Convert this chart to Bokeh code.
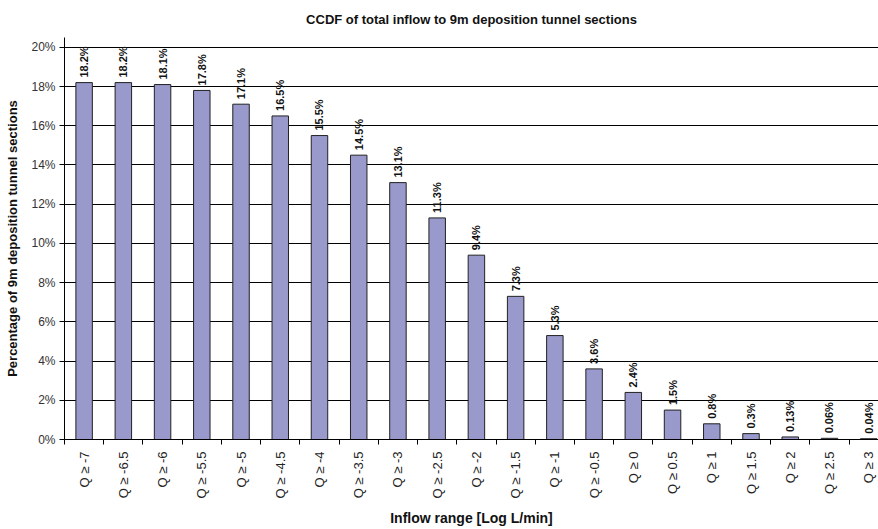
import math
from bokeh.plotting import figure
from bokeh.models import ColumnDataSource, Range1d, FixedTicker
from bokeh.core.properties import value
from bokeh.embed import file_html
from bokeh.resources import INLINE

categories = ["Q ≥ -7", "Q ≥ -6.5", "Q ≥ -6", "Q ≥ -5.5", "Q ≥ -5", "Q ≥ -4.5",
              "Q ≥ -4", "Q ≥ -3.5", "Q ≥ -3", "Q ≥ -2.5", "Q ≥ -2", "Q ≥ -1.5",
              "Q ≥ -1", "Q ≥ -0.5", "Q ≥ 0", "Q ≥ 0.5", "Q ≥ 1", "Q ≥ 1.5",
              "Q ≥ 2", "Q ≥ 2.5", "Q ≥ 3"]
percent = [18.2, 18.2, 18.1, 17.8, 17.1, 16.5, 15.5, 14.5, 13.1, 11.3, 9.4, 7.3,
           5.3, 3.6, 2.4, 1.5, 0.8, 0.3, 0.13, 0.06, 0.04]
y_ticks = [0, 2, 4, 6, 8, 10, 12, 14, 16, 18, 20]

FONT = "Liberation Sans"
n = len(categories)
centers = [i + 0.5 for i in range(n)]
labels = [f"{v}%" for v in percent]

src = ColumnDataSource(dict(x=centers, top=percent, label=labels))

p = figure(width=878, height=529, output_backend="svg", toolbar_location=None,
           x_range=Range1d(0, n - 0.25), y_range=Range1d(0, 20.5),
           min_border_left=64, min_border_right=0, min_border_top=37,
           min_border_bottom=89,
           title="CCDF of total inflow to 9m deposition tunnel sections")
p.outline_line_color = None
p.background_fill_color = "white"
p.border_fill_color = "white"

p.title.text_font = FONT
p.title.text_font_size = "13px"
p.title.text_font_style = "bold"
p.title.text_color = "#111111"
p.title.align = "center"
p.title.vertical_align = "top"
p.title.offset = -27
p.title.standoff = 18

p.vbar(x="x", top="top", width=0.42, bottom=0, source=src,
       fill_color="#9999CC", line_color="#222222", line_width=1)

p.text(x="x", y="top", text="label", source=src, angle=math.pi / 2,
       text_align="left", text_baseline="middle", y_offset=-5,
       text_font=value(FONT), text_font_size="11px", text_font_style="bold",
       text_color="#111111")

# x axis
xa = p.xaxis[0]
xa.ticker = FixedTicker(ticks=centers, minor_ticks=list(range(n + 1)))
xa.major_label_overrides = {c: lab for c, lab in zip(centers, categories)}
xa.major_label_orientation = math.pi / 2
xa.major_tick_line_color = None
xa.major_tick_out = 5
xa.major_tick_in = 0
xa.minor_tick_out = 5
xa.minor_tick_in = 0
xa.minor_tick_line_color = "black"
xa.axis_line_color = "black"
xa.major_label_text_font = FONT
xa.major_label_text_font_size = "13px"
xa.major_label_text_color = "#222222"
xa.major_label_standoff = 7
xa.axis_label = "Inflow range [Log L/min]"
xa.axis_label_text_font = FONT
xa.axis_label_text_font_size = "14px"
xa.axis_label_text_font_style = "bold"
xa.axis_label_text_color = "#111111"
xa.axis_label_standoff = 9

# y axis
ya = p.yaxis[0]
ya.ticker = FixedTicker(ticks=y_ticks)
ya.major_label_overrides = {t: f"{t}%" for t in y_ticks}
ya.major_tick_out = 5
ya.major_tick_in = 0
ya.minor_tick_line_color = None
ya.axis_line_color = "black"
ya.major_tick_line_color = "black"
ya.major_label_text_font = FONT
ya.major_label_text_font_size = "12px"
ya.major_label_text_color = "#333333"
ya.major_label_standoff = 4
ya.axis_label = "Percentage of 9m deposition tunnel sections"
ya.axis_label_text_font = FONT
ya.axis_label_text_font_size = "13px"
ya.axis_label_text_font_style = "bold"
ya.axis_label_text_color = "#111111"
ya.axis_label_standoff = 8

p.xgrid.grid_line_color = None
p.ygrid.ticker = FixedTicker(ticks=y_ticks)
p.ygrid.grid_line_color = "black"
p.ygrid.grid_line_width = 1

open("out.html", "w").write(file_html(p, INLINE))
